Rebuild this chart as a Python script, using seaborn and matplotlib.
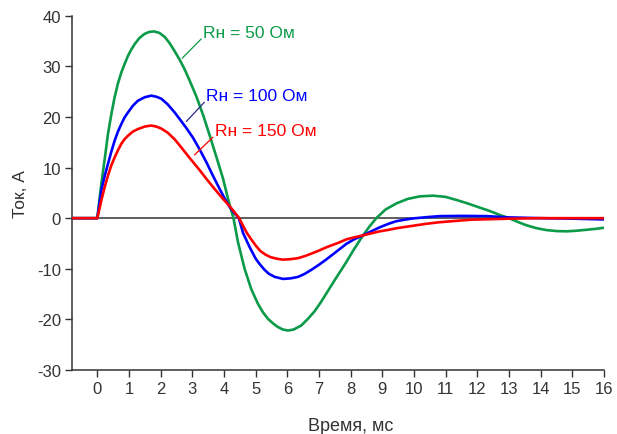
import numpy as np
import pandas as pd
import matplotlib
matplotlib.use("Agg")
import matplotlib.pyplot as plt
import seaborn as sns

# Current waveforms for three load resistances (time in ms, current in A)
t_50 = [-0.8, 0, 0.126, 0.25, 0.335, 0.45, 0.546, 0.65, 0.758, 0.87, 0.97, 1.08, 1.18, 1.33,
        1.49, 1.64, 1.79, 1.96, 2.13, 2.28, 2.44, 2.6, 2.75, 2.9, 3.13, 3.35, 3.55, 3.76, 3.97,
        4.16, 4.3, 4.44, 4.65, 4.86, 5.07, 5.23, 5.39, 5.55, 5.7, 5.86, 6.02, 6.2, 6.44, 6.65,
        6.86, 7.06, 7.26, 7.5, 7.86, 8.1, 8.39, 8.6, 8.81, 9.1, 9.44, 9.8, 10.18, 10.6, 11.0,
        11.34, 11.7, 12.07, 12.4, 12.7, 13.0, 13.3, 13.55, 13.85, 14.18, 14.5, 14.81, 15.1,
        15.44, 15.75, 16]
i_50 = [0, 0, 6.8, 12.5, 16.6, 20.8, 23.9, 26.6, 28.8, 30.6, 32.1, 33.4, 34.4, 35.6,
        36.4, 36.8, 36.9, 36.6, 35.8, 34.6, 33.0, 31.3, 29.5, 27.4, 24.0, 20.2, 16.3, 12.1, 7.8,
        3.0, 0, -4.7, -10.0, -14.0, -16.9, -18.6, -19.9, -20.8, -21.5, -22.0, -22.2, -22.0,
        -21.2, -19.9, -18.4, -16.6, -14.6, -12.2, -8.7, -6.2, -3.4, -1.6, 0, 1.7, 2.9, 3.8,
        4.3, 4.45, 4.2, 3.6, 2.9, 2.1, 1.4, 0.65, 0, -0.8, -1.4, -1.95, -2.35, -2.55, -2.6,
        -2.5, -2.3, -2.1, -1.9]

t_100 = [-0.8, 0, 0.126, 0.23, 0.335, 0.44, 0.546, 0.65, 0.758, 0.86, 0.97, 1.12, 1.28, 1.5,
         1.70, 1.86, 2.02, 2.22, 2.44, 2.61, 2.8, 3.02, 3.23, 3.44, 3.65, 3.86, 4.03, 4.18,
         4.33, 4.47, 4.6, 4.8, 5.0, 5.13, 5.28, 5.42, 5.6, 5.86, 6.1, 6.34, 6.55, 6.76, 7.0,
         7.2, 7.45, 7.86, 8.1, 8.39, 8.65, 8.92, 9.2, 9.44, 9.7, 9.97, 10.4, 10.81, 11.5, 12.3,
         13.0, 14.0, 15.0, 16]
i_100 = [0, 0, 5.5, 8.3, 10.7, 13.1, 15.3, 17.1, 18.6, 19.9, 20.9, 22.2, 23.2, 23.9,
         24.2, 24.0, 23.6, 22.5, 20.9, 19.5, 17.9, 15.9, 13.6, 11.1, 8.4, 5.8, 3.8, 2.2,
         1.0, 0, -2.9, -5.6, -8.0, -9.1, -10.2, -11.0, -11.6, -12.0, -11.9, -11.6, -11.0, -10.2,
         -9.2, -8.3, -7.1, -5.1, -4.2, -3.4, -2.6, -1.8, -1.1, -0.6, -0.3, -0.05, 0.2, 0.4,
         0.45, 0.4, 0.15, 0, -0.1, -0.25]

t_150 = [-0.8, 0, 0.126, 0.23, 0.335, 0.44, 0.546, 0.65, 0.758, 0.86, 0.97, 1.12, 1.28, 1.5,
         1.70, 1.86, 2.02, 2.22, 2.44, 2.61, 2.8, 3.02, 3.23, 3.44, 3.7, 3.97, 4.16, 4.33,
         4.48, 4.6, 4.73, 4.85, 5.0, 5.15, 5.31, 5.47, 5.66, 5.86, 6.1, 6.34, 6.55, 6.76, 7.0,
         7.18, 7.34, 7.6, 7.86, 8.1, 8.39, 8.65, 8.92, 9.2, 9.44, 9.7, 9.97, 10.4, 10.81, 11.3,
         11.8, 12.4, 13.0, 14.0, 16]
i_150 = [0, 0, 3.5, 6.1, 8.4, 10.4, 12.0, 13.4, 14.7, 15.6, 16.3, 17.1, 17.6, 18.1,
         18.3, 18.1, 17.7, 16.9, 15.6, 14.3, 12.8, 11.1, 9.5, 7.8, 5.8, 3.8, 2.5, 1.2,
         0, -1.5, -3.0, -4.1, -5.4, -6.5, -7.2, -7.7, -8.0, -8.2, -8.1, -7.9, -7.5, -7.0, -6.4,
         -5.9, -5.5, -4.9, -4.2, -3.8, -3.4, -3.0, -2.6, -2.3, -2.0, -1.75, -1.5, -1.1, -0.8,
         -0.55, -0.3, -0.2, -0.1, 0, 0]

series_names = ["Rн = 50 Ом", "Rн = 100 Ом", "Rн = 150 Ом"]
series_colors = ["#0a9a48", "#0000ff", "#ff0000"]
x_ticks = list(range(0, 17))
y_ticks = [-30, -20, -10, 0, 10, 20, 30, 40]

frames = []
for name, t, i in zip(series_names, [t_50, t_100, t_150], [i_50, i_100, i_150]):
    frames.append(pd.DataFrame({"t": t, "i": i, "load": name}))
data = pd.concat(frames, ignore_index=True)

sns.set_theme(style="ticks")
plt.rcParams["font.family"] = ["Liberation Sans", "DejaVu Sans"]
plt.rcParams["axes.unicode_minus"] = False
plt.rcParams["text.color"] = "#333333"
plt.rcParams["axes.labelcolor"] = "#333333"
plt.rcParams["xtick.color"] = "#333333"
plt.rcParams["ytick.color"] = "#333333"

fig = plt.figure(figsize=(6.17, 4.35), dpi=100)
ax = fig.add_axes([0.1167, 0.1471, 0.8622, 0.8145])

ax.axhline(0, color="#333333", lw=1.1, zorder=1)

sns.lineplot(data=data, x="t", y="i", hue="load", palette=series_colors,
             hue_order=series_names, sort=False, estimator=None,
             lw=1.9, ax=ax, legend=False, zorder=3)
for line in ax.get_lines():
    line.set_solid_joinstyle("round")

ax.set_xlim(-0.8, 16)
ax.set_ylim(-30, 40)
ax.set_xticks(x_ticks)
ax.set_yticks(y_ticks)
ax.tick_params(axis="both", labelsize=12, length=5, width=1, pad=3)
ax.set_xlabel("Время, мс", fontsize=13, labelpad=15)
ax.xaxis.label.set_x((8 + 0.8) / 16.8)
ax.set_ylabel("Ток, А", fontsize=12.5, labelpad=6)

for side in ["top", "right"]:
    ax.spines[side].set_visible(False)
for side in ["left", "bottom"]:
    ax.spines[side].set_color("#333333")
    ax.spines[side].set_linewidth(1.1)

# Labels with leader lines pointing at each curve
label_specs = [
    (series_names[0], series_colors[0], (2.68, 31.6), (3.34, 36.7)),
    (series_names[1], series_colors[1], (2.81, 19.1), (3.44, 24.2)),
    (series_names[2], series_colors[2], (3.07, 12.5), (3.71, 17.3)),
]
leader_colors = [series_colors[0], "#2a2a8a", series_colors[2]]
for (name, color, tip, txt), lcol in zip(label_specs, leader_colors):
    ax.annotate("", xy=tip, xytext=(txt[0] - 0.06, txt[1] - 1.3),
                arrowprops=dict(arrowstyle="-", color=lcol, lw=0.9,
                                shrinkA=0, shrinkB=0))
    ax.text(txt[0], txt[1], name, color=color, fontsize=12.5,
            ha="left", va="center")

fig.savefig("out.png", dpi=100)
